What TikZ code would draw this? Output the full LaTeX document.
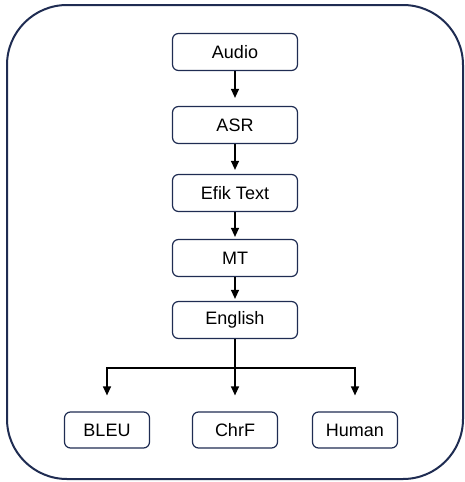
\documentclass[tikz,border=0pt]{standalone}
\usepackage{fontspec}
\setmainfont{Liberation Sans}
\usepackage{xcolor}
\definecolor{navy}{HTML}{1F2C52}
\usetikzlibrary{arrows.meta,positioning}
\tikzset{
  >={Triangle[length=9pt,width=8pt]},
  box/.style    ={draw=navy,fill=white,rounded corners=6pt,line width=1.2pt,
                  font=\fontsize{18}{22}\selectfont,inner sep=0pt,
                  minimum height=37pt,minimum width=125pt,align=center},
  metric/.style ={box,minimum height=36pt,minimum width=85pt},
  frame/.style  ={draw=navy,line width=2pt,rounded corners=60pt},
  flow/.style   ={->,draw=black,line width=1.2pt},
}
\begin{document}
\begin{tikzpicture}[x=1pt,y=-1pt]
\useasboundingbox (0,0) rectangle (465,482);
% outer frame
\draw[frame] (7,5) rectangle (463,479);
% pipeline
\node[box] (audio)   at (235,52)  {Audio};
\node[box] (asr)     at (235,125) {ASR};
\node[box] (efik)    at (235,193) {Efik Text};
\node[box] (mt)      at (235,258) {MT};
\node[box] (english) at (235,320) {English};
% evaluation
\node[metric] (bleu)  at (107,430) {BLEU};
\node[metric] (chrf)  at (235,430) {ChrF};
\node[metric] (human) at (355,430) {Human};
\draw[flow,shorten >=8pt] (audio) -- (asr);
\draw[flow,shorten >=4pt] (asr) -- (efik);
\draw[flow,shorten >=2pt] (efik) -- (mt);
\draw[flow,shorten >=2pt] (mt) -- (english);
\coordinate (split) at (235,368);
\draw[line width=1.2pt] (english) -- (split);
\foreach \m in {bleu,chrf,human}
  {\draw[flow,shorten >=16pt] (split) -| (\m.north);}
\end{tikzpicture}
\end{document}
